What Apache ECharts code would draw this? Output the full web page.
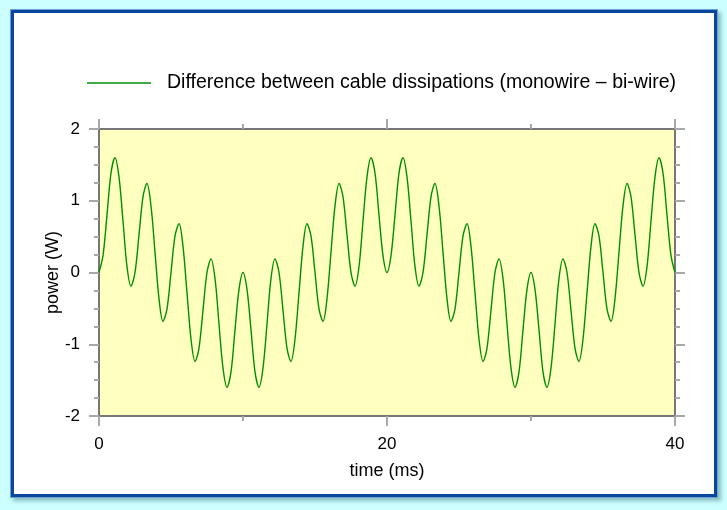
<!DOCTYPE html>
<html>
<head>
<meta charset="utf-8">
<script src="https://cdn.jsdelivr.net/npm/echarts@6/dist/echarts.min.js"></script>
<style>
  html, body { margin: 0; padding: 0; background: #ccffff; }
  #frame {
    position: absolute; left: 10px; top: 9px; width: 708px; height: 489px;
    box-sizing: border-box; background: #fff;
    border: 1px solid #6f9fd6;
    box-shadow: inset 0 0 0 3px #08479c, 3px 3px 4px rgba(60,110,110,0.45);
  }
  #chart { position: absolute; left: 0; top: 0; width: 727px; height: 510px; }
</style>
</head>
<body>
<div id="frame"></div>
<div id="chart"></div>
<script>
// time (ms), read every 1/8 of the fast ripple
var timeMs = [
  0, 0.28, 0.56, 0.83, 1.11, 1.39, 1.67, 1.94,
  2.22, 2.50, 2.78, 3.06, 3.33, 3.61, 3.89, 4.17,
  4.44, 4.72, 5.00, 5.28, 5.56, 5.83, 6.11, 6.39,
  6.67, 6.94, 7.22, 7.50, 7.78, 8.06, 8.33, 8.61,
  8.89, 9.17, 9.44, 9.72, 10.00, 10.28, 10.56, 10.83,
  11.11, 11.39, 11.67, 11.94, 12.22, 12.50, 12.78, 13.06,
  13.33, 13.61, 13.89, 14.17, 14.44, 14.72, 15.00, 15.28,
  15.56, 15.83, 16.11, 16.39, 16.67, 16.94, 17.22, 17.50,
  17.78, 18.06, 18.33, 18.61, 18.89, 19.17, 19.44, 19.72,
  20.00, 20.28, 20.56, 20.83, 21.11, 21.39, 21.67, 21.94,
  22.22, 22.50, 22.78, 23.06, 23.33, 23.61, 23.89, 24.17,
  24.44, 24.72, 25.00, 25.28, 25.56, 25.83, 26.11, 26.39,
  26.67, 26.94, 27.22, 27.50, 27.78, 28.06, 28.33, 28.61,
  28.89, 29.17, 29.44, 29.72, 30.00, 30.28, 30.56, 30.83,
  31.11, 31.39, 31.67, 31.94, 32.22, 32.50, 32.78, 33.06,
  33.33, 33.61, 33.89, 34.17, 34.44, 34.72, 35.00, 35.28,
  35.56, 35.83, 36.11, 36.39, 36.67, 36.94, 37.22, 37.50,
  37.78, 38.06, 38.33, 38.61, 38.89, 39.17, 39.44, 39.72,
  40.00
];
// power difference (W)
var powerW = [
  0, 0.24, 0.81, 1.38, 1.60, 1.33, 0.71, 0.09,
  -0.19, 0, 0.53, 1.06, 1.24, 0.93, 0.28, -0.37,
  -0.68, -0.51, 0, 0.51, 0.68, 0.37, -0.28, -0.93,
  -1.24, -1.06, -0.53, 0, 0.19, -0.09, -0.71, -1.33,
  -1.60, -1.38, -0.81, -0.24, 0, -0.24, -0.81, -1.38,
  -1.60, -1.33, -0.71, -0.09, 0.19, 0, -0.53, -1.06,
  -1.24, -0.93, -0.28, 0.37, 0.68, 0.51, 0, -0.51,
  -0.68, -0.37, 0.28, 0.93, 1.24, 1.06, 0.53, 0,
  -0.19, 0.09, 0.71, 1.33, 1.60, 1.38, 0.81, 0.24,
  0, 0.24, 0.81, 1.38, 1.60, 1.33, 0.71, 0.09,
  -0.19, 0, 0.53, 1.06, 1.24, 0.93, 0.28, -0.37,
  -0.68, -0.51, 0, 0.51, 0.68, 0.37, -0.28, -0.93,
  -1.24, -1.06, -0.53, 0, 0.19, -0.09, -0.71, -1.33,
  -1.60, -1.38, -0.81, -0.24, 0, -0.24, -0.81, -1.38,
  -1.60, -1.33, -0.71, -0.09, 0.19, 0, -0.53, -1.06,
  -1.24, -0.93, -0.28, 0.37, 0.68, 0.51, 0, -0.51,
  -0.68, -0.37, 0.28, 0.93, 1.24, 1.06, 0.53, 0,
  -0.19, 0.09, 0.71, 1.33, 1.60, 1.38, 0.81, 0.24,
  0
];
var xTicks = [0, 20, 40];
var yTicks = [-2, -1, 0, 1, 2];
var seriesName = 'Difference between cable dissipations (monowire \u2013 bi-wire)';

var font = 'Liberation Sans';
var tickStyle = { color: '#a8a8a8', width: 2 };
var lineAxis = { onZero: false, lineStyle: { color: '#777', width: 2 } };

function xAx(pos, label) {
  return {
    type: 'value', position: pos,
    min: xTicks[0], max: xTicks[xTicks.length - 1], interval: xTicks[1] - xTicks[0],
    axisLine: lineAxis,
    axisTick: { length: 10, lineStyle: tickStyle },
    minorTick: { show: true, splitNumber: 2, length: 5, lineStyle: tickStyle },
    axisLabel: { show: label, margin: 20, fontSize: 17, color: '#000', fontFamily: font },
    splitLine: { show: false },
    name: label ? 'time (ms)' : '', nameLocation: 'middle', nameGap: 46,
    nameMoveOverlap: false,
    nameTextStyle: { fontSize: 18, color: '#000', fontFamily: font }
  };
}
function yAx(pos, label) {
  return {
    type: 'value', position: pos,
    min: yTicks[0], max: yTicks[yTicks.length - 1], interval: yTicks[1] - yTicks[0],
    axisLine: lineAxis,
    axisTick: { length: 10, lineStyle: tickStyle },
    minorTick: { show: true, splitNumber: 4, length: 5, lineStyle: tickStyle },
    axisLabel: { show: label, margin: 19, fontSize: 17, color: '#000', fontFamily: font },
    splitLine: { show: false },
    name: label ? 'power (W)' : '', nameLocation: 'middle', nameGap: 37, nameRotate: 90,
    nameMoveOverlap: false,
    nameTextStyle: { fontSize: 18, color: '#000', fontFamily: font }
  };
}

var chart = echarts.init(document.getElementById('chart'));
chart.setOption({
  animation: false,
  backgroundColor: 'transparent',
  legend: {
    left: 87, top: 73, padding: 0,
    icon: 'rect', itemWidth: 64, itemHeight: 1.5,
    textStyle: { fontSize: 19.5, color: '#000', fontFamily: font, padding: [0, 0, 0, 11] },
    data: [seriesName]
  },
  grid: {
    left: 99, top: 129, width: 576, height: 287,
    show: true, backgroundColor: '#ffffc0', borderWidth: 0
  },
  xAxis: [xAx('bottom', true), xAx('top', false)],
  yAxis: [yAx('left', true), yAx('right', false)],
  series: [{
    name: seriesName,
    type: 'line',
    symbol: 'none',
    smooth: 0.33,
    lineStyle: { color: '#008f00', width: 1.4 },
    itemStyle: { color: '#008f00' },
    data: timeMs.map(function (t, i) { return [t, powerW[i]]; })
  }]
});
</script>
</body>
</html>
